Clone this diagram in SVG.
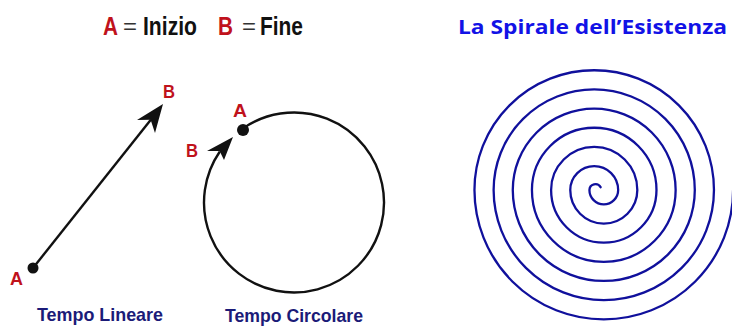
<svg xmlns="http://www.w3.org/2000/svg" width="732" height="327" viewBox="0 0 732 327">
<style>
.hdr{font-family:"Liberation Sans","DejaVu Sans",Arial,sans-serif;font-weight:bold;font-size:25px}
.red{fill:#c0121c}
.blk{fill:#111}
.eq{font-family:"Liberation Sans",Arial,sans-serif;font-size:22px;fill:#333}
.lbl{font-family:"Liberation Sans","DejaVu Sans",Arial,sans-serif;font-weight:bold;font-size:19px;fill:#c0121c}
.cap{font-family:"Liberation Sans","DejaVu Sans",Arial,sans-serif;font-weight:bold;font-size:19px;fill:#1b1b78}
.ttl{font-family:"Open Sans","Noto Sans","DejaVu Sans",sans-serif;font-weight:bold;font-size:19px;fill:#1212e6}
.ln{fill:none;stroke:#111;stroke-width:2.4}
.sp{fill:none;stroke:#10109c;stroke-width:2.3;stroke-linecap:round}
</style>
<rect width="732" height="327" fill="#fff"/>
<g id="legend">
<text class="hdr red" x="103" y="35" textLength="15" lengthAdjust="spacingAndGlyphs">A</text>
<text class="eq" x="123" y="34" textLength="14" lengthAdjust="spacingAndGlyphs">=</text>
<text class="hdr blk" x="143" y="35" textLength="54" lengthAdjust="spacingAndGlyphs">Inizio</text>
<text class="hdr red" x="218" y="35" textLength="15" lengthAdjust="spacingAndGlyphs">B</text>
<text class="eq" x="242" y="34" textLength="14" lengthAdjust="spacingAndGlyphs">=</text>
<text class="hdr blk" x="260" y="35" textLength="43" lengthAdjust="spacingAndGlyphs">Fine</text>
</g>
<g id="connectors">
<line class="ln" x1="33" y1="268" x2="151" y2="119.5"/>
<path class="ln" d="M242.2 128.9 A90 90 0 1 1 219.85 151.5"/>
</g>
<g id="linear">
<circle cx="33" cy="268" r="5.5" fill="#111"/>
<polygon points="163,104 137,120 150.6,119.7 155,133" fill="#111"/>
<text class="lbl" x="10" y="285" textLength="13" lengthAdjust="spacingAndGlyphs">A</text>
<text class="lbl" x="163" y="98" textLength="12" lengthAdjust="spacingAndGlyphs">B</text>
<text class="cap" x="37" y="321" textLength="126" lengthAdjust="spacingAndGlyphs">Tempo Lineare</text>
</g>
<g id="circular">
<circle cx="243" cy="130" r="6" fill="#111"/>
<polygon points="233,137 207,151 219.6,151.1 224,160" fill="#111"/>
<text class="lbl" x="233" y="117" textLength="14" lengthAdjust="spacingAndGlyphs">A</text>
<text class="lbl" x="186" y="157" textLength="12" lengthAdjust="spacingAndGlyphs">B</text>
<text class="cap" x="225" y="322" textLength="138" lengthAdjust="spacingAndGlyphs">Tempo Circolare</text>
</g>
<g id="spiral">
<text class="ttl" x="458" y="34" textLength="269" lengthAdjust="spacingAndGlyphs">La Spirale dell’Esistenza</text>
<path class="sp" d="M600.6 187.2 A6 6 0 0 0 589.42 190 A14.37 14.37 0 0 0 618.16 190 A23.95 23.95 0 0 0 570.26 190 A33.53 33.53 0 0 0 637.32 190 A43.11 43.11 0 0 0 551.1 190 A52.69 52.69 0 0 0 656.48 190 A62.27 62.27 0 0 0 531.94 190 A71.85 71.85 0 0 0 675.64 190 A81.43 81.43 0 0 0 512.78 190 A91.01 91.01 0 0 0 694.8 190 A100.59 100.59 0 0 0 493.62 190 A110.17 110.17 0 0 0 713.96 190 A119.75 119.75 0 0 0 474.46 190 A129.33 129.33 0 0 0 733.12 190"/>
</g>
</svg>
